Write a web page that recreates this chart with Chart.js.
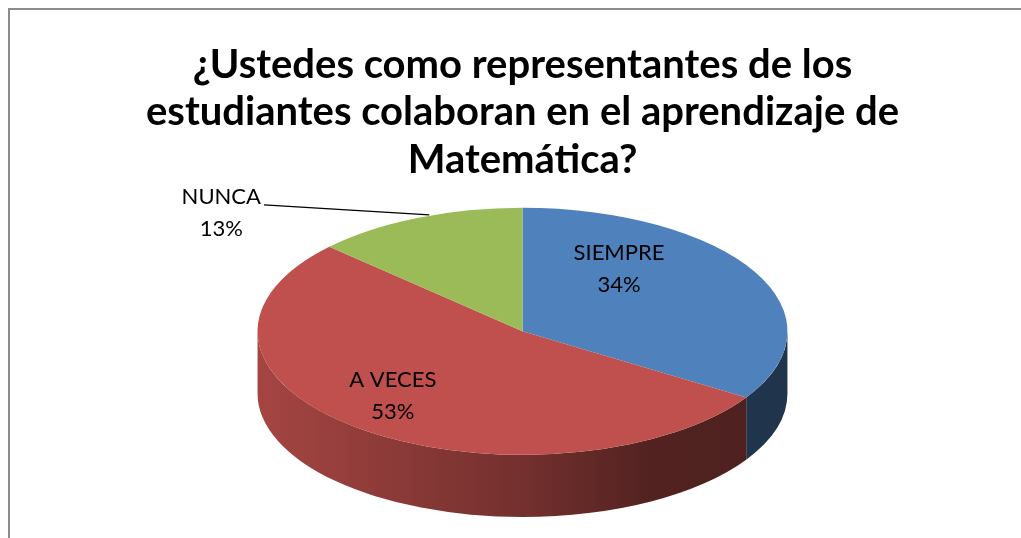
<!DOCTYPE html>
<html>
<head>
<meta charset="utf-8">
<script src="https://cdn.jsdelivr.net/npm/chart.js@4.4.1/dist/chart.umd.min.js"></script>
<style>
  html, body { margin: 0; padding: 0; background: #fff; }
  #wrap { width: 1021px; height: 538px; position: relative; }
</style>
</head>
<body>
<div id="wrap"><canvas id="pie"></canvas></div>
<script>
// datos
const categorias = ['SIEMPRE', 'A VECES', 'NUNCA'];
const porcentajes = [34, 53, 13];
const colores = ['#4F81BD', '#C0504D', '#9BBB59'];
const titulo = [
  '¿Ustedes como representantes de los',
  'estudiantes colaboran en el aprendizaje de',
  'Matemática?'
];

// aspecto del pastel 3D (relativo al radio horizontal)
const TILT = 0.466;
const DEPTH = 0.235;

// ubicacion de las etiquetas respecto al punto medio de cada porcion
const etiquetas = [
  { inside: true, f: 0.7, dx: -66, dy: -21 },
  { inside: true, f: 0.7, dx: -16, dy: -4 },
  { inside: false, f: 1.0, dx: -196, dy: -5 }
];

function shade(hex, k) {
  const n = parseInt(hex.slice(1), 16);
  const r = Math.round(((n >> 16) & 255) * k);
  const g = Math.round(((n >> 8) & 255) * k);
  const b = Math.round((n & 255) * k);
  return `rgb(${r},${g},${b})`;
}

function geometry(chart) {
  const a = chart.chartArea;
  const W = a.right - a.left, H = a.bottom - a.top;
  const rx = Math.min(W / 2, H / (2 * TILT + DEPTH));
  const ry = rx * TILT;
  const depth = rx * DEPTH;
  const used = 2 * ry + depth;
  return {
    cx: (a.left + a.right) / 2,
    cy: a.top + (H - used) / 2 + ry,
    rx, ry, depth
  };
}

const frame = {
  id: 'frame',
  beforeDraw(chart) {
    const ctx = chart.ctx;
    ctx.save();
    ctx.strokeStyle = '#8c8c8c';
    ctx.lineWidth = 2;
    ctx.beginPath();
    ctx.moveTo(9, chart.height + 2);
    ctx.lineTo(9, 9);
    ctx.lineTo(chart.width + 2, 9);
    ctx.stroke();
    ctx.restore();
  }
};

const pie3d = {
  id: 'pie3d',
  beforeDatasetsDraw(chart) {
    const ctx = chart.ctx;
    const g = geometry(chart);
    const arcs = chart.getDatasetMeta(0).data;
    const TAU = Math.PI * 2;

    // paredes laterales (solo la mitad frontal es visible)
    arcs.forEach((el, i) => {
      let s = el.startAngle % TAU;
      if (s < 0) s += TAU;
      const e = s + (el.endAngle - el.startAngle);
      [[0, Math.PI], [TAU, TAU + Math.PI]].forEach(([lo, hi]) => {
        const a1 = Math.max(s, lo), a2 = Math.min(e, hi);
        if (a2 <= a1) return;
        const grad = ctx.createLinearGradient(g.cx - g.rx, 0, g.cx + g.rx, 0);
        grad.addColorStop(0, shade(colores[i], 0.86));
        grad.addColorStop(0.5, shade(colores[i], 0.6));
        grad.addColorStop(0.75, shade(colores[i], 0.42));
        grad.addColorStop(1, shade(colores[i], 0.4));
        ctx.beginPath();
        ctx.ellipse(g.cx, g.cy, g.rx, g.ry, 0, a1, a2, false);
        ctx.ellipse(g.cx, g.cy + g.depth, g.rx, g.ry, 0, a2, a1, true);
        ctx.closePath();
        ctx.fillStyle = grad;
        ctx.fill();
      });
    });

    // la cara superior la dibuja Chart.js, aplastada en elipse
    const el = arcs[0];
    const R = el.outerRadius;
    ctx.save();
    ctx.translate(g.cx, g.cy);
    ctx.scale(g.rx / R, g.ry / R);
    ctx.translate(-el.x, -el.y);
  },
  afterDatasetsDraw(chart) {
    const ctx = chart.ctx;
    ctx.restore();
    const g = geometry(chart);
    const arcs = chart.getDatasetMeta(0).data;
    ctx.save();
    ctx.fillStyle = '#000';
    ctx.font = '22px Lato';
    ctx.textAlign = 'center';
    ctx.textBaseline = 'middle';
    arcs.forEach((el, i) => {
      const cfg = etiquetas[i];
      const mid = (el.startAngle + el.endAngle) / 2;
      const px = g.cx + cfg.f * g.rx * Math.cos(mid);
      const py = g.cy + cfg.f * g.ry * Math.sin(mid);
      const tx = px + cfg.dx, ty = py + cfg.dy;
      const lines = [categorias[i], porcentajes[i] + '%'];
      ctx.fillText(lines[0], tx, ty - 16);
      ctx.fillText(lines[1], tx, ty + 16);
      if (!cfg.inside) {
        const w = ctx.measureText(lines[0]).width;
        ctx.beginPath();
        ctx.strokeStyle = '#000';
        ctx.lineWidth = 1.3;
        ctx.moveTo(tx + w / 2 + 3, ty - 8);
        ctx.lineTo(px + 12, py - 3);
        ctx.stroke();
      }
    });
    ctx.restore();
  }
};

new Chart(document.getElementById('pie'), {
  type: 'pie',
  data: {
    labels: categorias,
    datasets: [{
      data: porcentajes,
      backgroundColor: colores,
      borderWidth: 0,
      clip: false
    }]
  },
  options: {
    responsive: true,
    maintainAspectRatio: false,
    animation: false,
    events: [],
    layout: { padding: { top: 10, left: 24, right: 0, bottom: 21 } },
    plugins: {
      legend: { display: false },
      tooltip: { enabled: false },
      title: {
        display: true,
        text: titulo,
        color: '#000',
        font: { family: 'Lato', size: 40, weight: 'bold', lineHeight: 1.19 },
        padding: { top: 31, bottom: 24 }
      }
    }
  },
  plugins: [frame, pie3d]
});
</script>
</body>
</html>
